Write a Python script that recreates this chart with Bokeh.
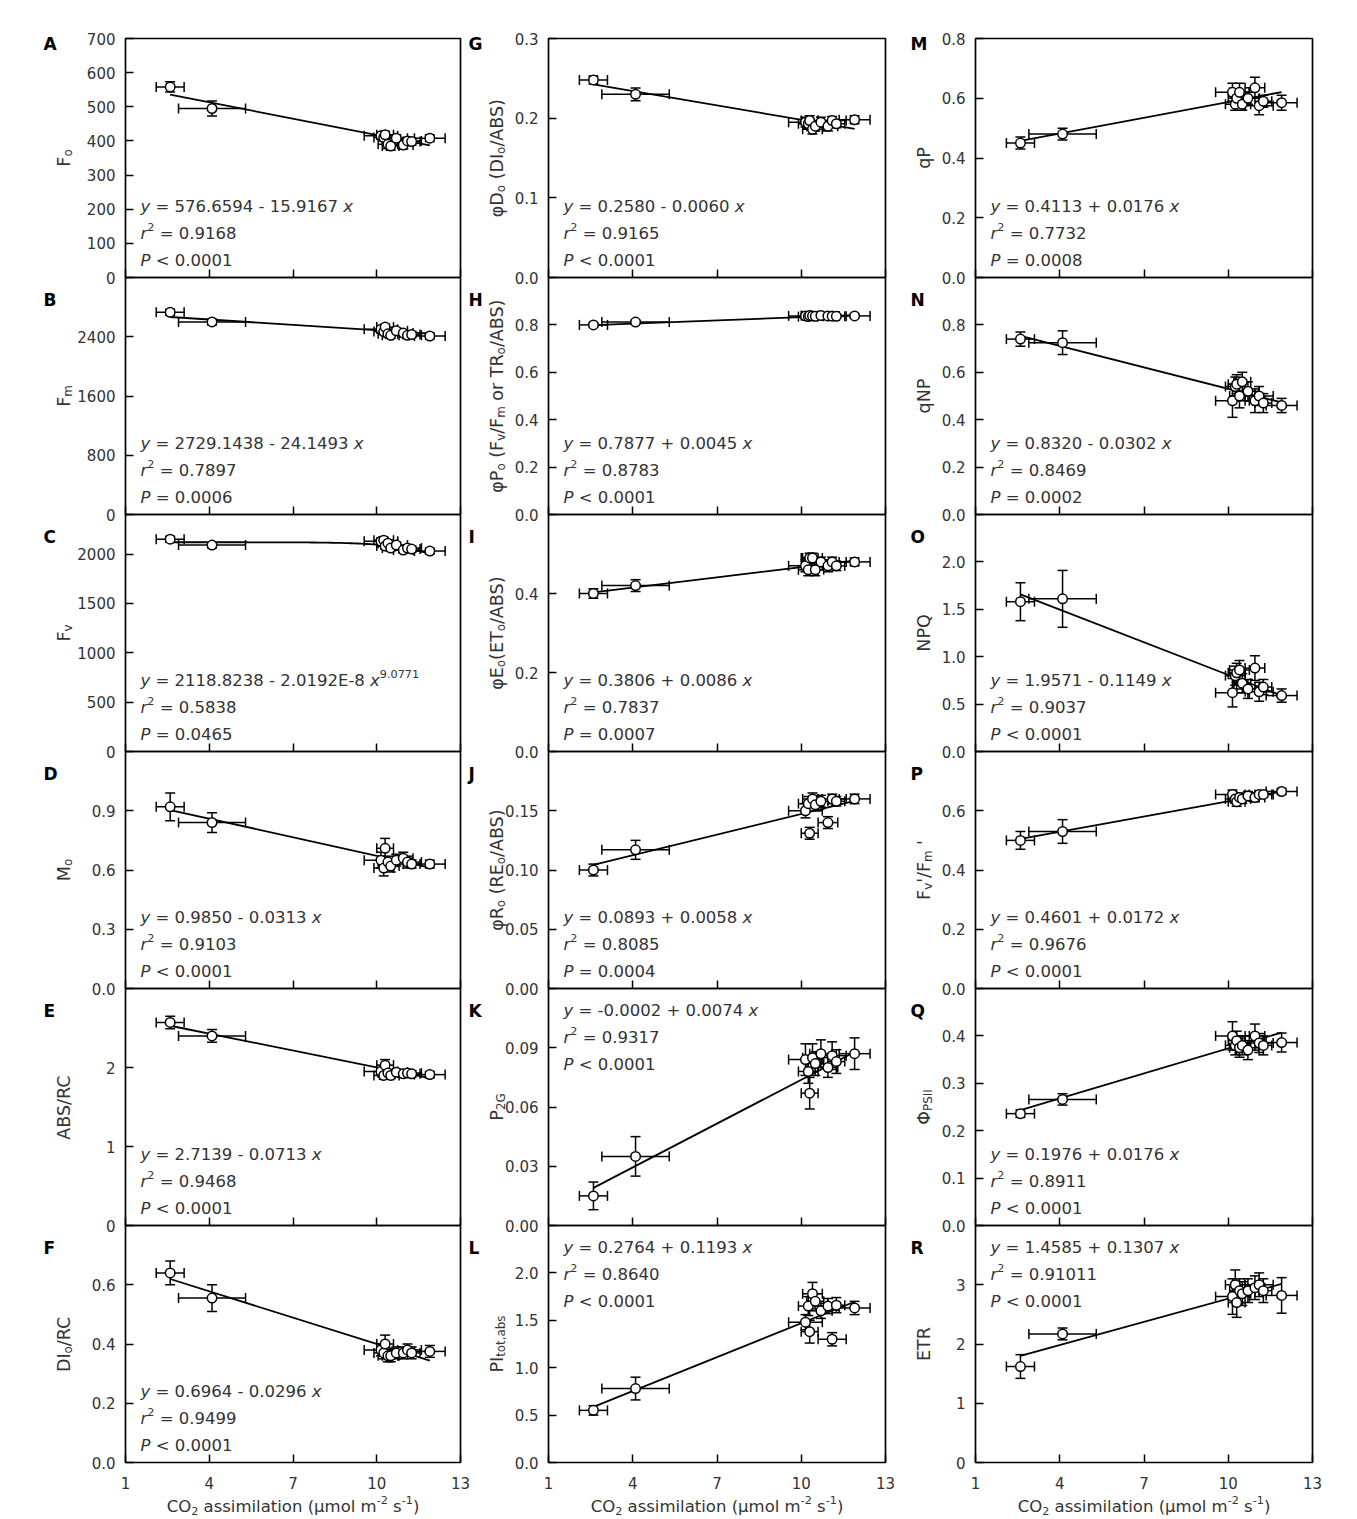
import math
import numpy as np
from bokeh.plotting import figure
from bokeh.models import Range1d, FixedTicker, Label, PrintfTickFormatter, LinearAxis
from bokeh.embed import file_html
from bokeh.resources import INLINE

# ---------------- data ----------------
co2 = [2.6, 4.1, 10.15, 10.25, 10.3, 10.4, 10.5, 10.7, 10.95, 11.1, 11.25, 11.9]
co2_err = [0.5, 1.2, 0.6, 0.35, 0.3, 0.35, 0.3, 0.4, 0.35, 0.5, 0.3, 0.55]

fo = [558, 495, 415, 410, 418, 390, 385, 408, 388, 400, 398, 408]
fo_err = [15, 22, 10, 10, 10, 12, 12, 10, 12, 10, 10, 10]
fm = [2730, 2600, 2500, 2470, 2530, 2440, 2420, 2480, 2450, 2420, 2430, 2410]
fm_err = [40, 40, 50, 40, 40, 40, 40, 40, 40, 40, 40, 40]
fv = [2150, 2090, 2130, 2140, 2080, 2110, 2060, 2090, 2040, 2060, 2050, 2030]
fv_err = [30, 30, 30, 30, 30, 30, 30, 30, 30, 30, 30, 30]
mo = [0.92, 0.84, 0.65, 0.61, 0.71, 0.64, 0.62, 0.65, 0.66, 0.64, 0.63, 0.63]
mo_err = [0.07, 0.05, 0.04, 0.04, 0.05, 0.03, 0.03, 0.03, 0.03, 0.03, 0.02, 0.02]
abs_rc = [2.57, 2.40, 1.95, 1.90, 2.03, 1.93, 1.90, 1.94, 1.92, 1.93, 1.92, 1.91]
abs_rc_err = [0.08, 0.08, 0.05, 0.05, 0.07, 0.04, 0.04, 0.04, 0.04, 0.04, 0.04, 0.04]
dio_rc = [0.64, 0.555, 0.38, 0.37, 0.40, 0.36, 0.36, 0.37, 0.37, 0.38, 0.37, 0.375]
dio_rc_err = [0.04, 0.045, 0.02, 0.02, 0.03, 0.02, 0.02, 0.02, 0.02, 0.02, 0.02, 0.02]

phi_do = [0.248, 0.230, 0.195, 0.193, 0.197, 0.186, 0.190, 0.195, 0.190, 0.197, 0.193, 0.198]
phi_do_err = [0.005, 0.008, 0.006, 0.006, 0.006, 0.006, 0.006, 0.006, 0.006, 0.005, 0.005, 0.005]
phi_po = [0.800, 0.812, 0.838, 0.835, 0.840, 0.838, 0.836, 0.840, 0.838, 0.837, 0.836, 0.838]
phi_po_err = [0.008, 0.008, 0.008, 0.008, 0.008, 0.008, 0.008, 0.008, 0.008, 0.008, 0.008, 0.008]
phi_eo = [0.40, 0.42, 0.47, 0.46, 0.49, 0.49, 0.46, 0.48, 0.47, 0.48, 0.47, 0.48]
phi_eo_err = [0.012, 0.015, 0.015, 0.015, 0.012, 0.012, 0.015, 0.012, 0.015, 0.012, 0.012, 0.010]
phi_ro = [0.100, 0.117, 0.150, 0.156, 0.131, 0.160, 0.155, 0.158, 0.140, 0.160, 0.158, 0.160]
phi_ro_err = [0.005, 0.008, 0.006, 0.006, 0.005, 0.005, 0.005, 0.005, 0.005, 0.004, 0.004, 0.004]
p2g = [0.015, 0.035, 0.084, 0.078, 0.067, 0.085, 0.082, 0.087, 0.080, 0.086, 0.083, 0.087]
p2g_err = [0.007, 0.010, 0.008, 0.006, 0.008, 0.007, 0.006, 0.007, 0.005, 0.007, 0.006, 0.008]
pi_tot = [0.55, 0.78, 1.48, 1.65, 1.38, 1.78, 1.70, 1.60, 1.65, 1.30, 1.66, 1.63]
pi_tot_err = [0.05, 0.12, 0.08, 0.10, 0.12, 0.12, 0.08, 0.08, 0.08, 0.07, 0.08, 0.07]

qp = [0.45, 0.48, 0.62, 0.58, 0.60, 0.62, 0.58, 0.60, 0.635, 0.575, 0.59, 0.585]
qp_err = [0.02, 0.02, 0.03, 0.02, 0.03, 0.03, 0.02, 0.02, 0.035, 0.03, 0.02, 0.025]
qnp = [0.74, 0.725, 0.48, 0.54, 0.55, 0.50, 0.56, 0.52, 0.48, 0.50, 0.47, 0.46]
qnp_err = [0.03, 0.05, 0.07, 0.04, 0.04, 0.05, 0.04, 0.04, 0.05, 0.04, 0.04, 0.03]
npq = [1.58, 1.61, 0.62, 0.80, 0.83, 0.86, 0.72, 0.66, 0.88, 0.63, 0.68, 0.59]
npq_err = [0.20, 0.30, 0.15, 0.10, 0.10, 0.10, 0.10, 0.10, 0.13, 0.10, 0.08, 0.07]
fvfm_p = [0.50, 0.53, 0.655, 0.64, 0.63, 0.645, 0.64, 0.65, 0.645, 0.655, 0.655, 0.665]
fvfm_p_err = [0.03, 0.04, 0.015, 0.015, 0.015, 0.015, 0.015, 0.015, 0.015, 0.010, 0.010, 0.010]
phi_psii = [0.236, 0.266, 0.40, 0.38, 0.39, 0.375, 0.38, 0.37, 0.40, 0.385, 0.38, 0.386]
phi_psii_err = [0.008, 0.012, 0.03, 0.02, 0.02, 0.02, 0.02, 0.02, 0.025, 0.02, 0.02, 0.02]
etr = [1.62, 2.17, 2.80, 3.00, 2.70, 2.90, 2.85, 2.90, 2.95, 3.00, 2.90, 2.82]
etr_err = [0.20, 0.10, 0.30, 0.25, 0.25, 0.20, 0.20, 0.20, 0.20, 0.20, 0.20, 0.30]

x_ticks = [1, 4, 7, 10, 13]
x_title = [("CO", "n"), ("2", "b"), (" assimilation (μmol m", "n"), ("-2", "p"),
           (" s", "n"), ("-1", "p"), (")", "n")]

PANELS = [
    # column 1
    dict(key="A", y=fo, e=fo_err, ymax=700, ticks=[0, 100, 200, 300, 400, 500, 600, 700], fmt="%d",
         ylab=[("F", "n"), ("o", "b")], a=576.6594, b=-15.9167, eq="576.6594 - 15.9167",
         r2="0.9168", pv="< 0.0001", top=False),
    dict(key="B", y=fm, e=fm_err, ymax=3200, ticks=[0, 800, 1600, 2400], fmt="%d",
         ylab=[("F", "n"), ("m", "b")], a=2729.1438, b=-24.1493, eq="2729.1438 - 24.1493",
         r2="0.7897", pv="= 0.0006", top=False),
    dict(key="C", y=fv, e=fv_err, ymax=2400, ticks=[0, 500, 1000, 1500, 2000], fmt="%d",
         ylab=[("F", "n"), ("v", "b")], a=2118.8238, b=-2.0192e-8, power=9.0771,
         eq="2118.8238 - 2.0192E-8", r2="0.5838", pv="= 0.0465", top=False),
    dict(key="D", y=mo, e=mo_err, ymax=1.2, ticks=[0, 0.3, 0.6, 0.9], fmt="%.1f",
         ylab=[("M", "n"), ("o", "b")], a=0.9850, b=-0.0313, eq="0.9850 - 0.0313",
         r2="0.9103", pv="< 0.0001", top=False),
    dict(key="E", y=abs_rc, e=abs_rc_err, ymax=3, ticks=[0, 1, 2], fmt="%d",
         ylab=[("ABS/RC", "n")], a=2.7139, b=-0.0713, eq="2.7139 - 0.0713",
         r2="0.9468", pv="< 0.0001", top=False),
    dict(key="F", y=dio_rc, e=dio_rc_err, ymax=0.8, ticks=[0, 0.2, 0.4, 0.6], fmt="%.1f",
         ylab=[("DI", "n"), ("o", "b"), ("/RC", "n")], a=0.6964, b=-0.0296, eq="0.6964 - 0.0296",
         r2="0.9499", pv="< 0.0001", top=False),
    # column 2
    dict(key="G", y=phi_do, e=phi_do_err, ymax=0.3, ticks=[0, 0.1, 0.2, 0.3], fmt="%.1f",
         ylab=[("φD", "n"), ("o", "b"), (" (DI", "n"), ("o", "b"), ("/ABS)", "n")],
         a=0.2580, b=-0.0060, eq="0.2580 - 0.0060", r2="0.9165", pv="< 0.0001", top=False),
    dict(key="H", y=phi_po, e=phi_po_err, ymax=1.0, ticks=[0, 0.2, 0.4, 0.6, 0.8], fmt="%.1f",
         ylab=[("φP", "n"), ("o", "b"), (" (F", "n"), ("v", "b"), ("/F", "n"), ("m", "b"),
               (" or TR", "n"), ("o", "b"), ("/ABS)", "n")],
         a=0.7877, b=0.0045, eq="0.7877 + 0.0045", r2="0.8783", pv="< 0.0001", top=False),
    dict(key="I", y=phi_eo, e=phi_eo_err, ymax=0.6, ticks=[0, 0.2, 0.4], fmt="%.1f",
         ylab=[("φE", "n"), ("o", "b"), ("(ET", "n"), ("o", "b"), ("/ABS)", "n")],
         a=0.3806, b=0.0086, eq="0.3806 + 0.0086", r2="0.7837", pv="= 0.0007", top=False),
    dict(key="J", y=phi_ro, e=phi_ro_err, ymax=0.2, ticks=[0, 0.05, 0.1, 0.15], fmt="%.2f",
         ylab=[("φR", "n"), ("o", "b"), (" (RE", "n"), ("o", "b"), ("/ABS)", "n")],
         a=0.0893, b=0.0058, eq="0.0893 + 0.0058", r2="0.8085", pv="= 0.0004", top=False),
    dict(key="K", y=p2g, e=p2g_err, ymax=0.12, ticks=[0, 0.03, 0.06, 0.09], fmt="%.2f",
         ylab=[("P", "n"), ("2G", "b")], a=-0.0002, b=0.0074, eq="-0.0002 + 0.0074",
         r2="0.9317", pv="< 0.0001", top=True),
    dict(key="L", y=pi_tot, e=pi_tot_err, ymax=2.5, ticks=[0, 0.5, 1.0, 1.5, 2.0], fmt="%.1f",
         ylab=[("PI", "n"), ("tot,abs", "b")], a=0.2764, b=0.1193, eq="0.2764 + 0.1193",
         r2="0.8640", pv="< 0.0001", top=True),
    # column 3
    dict(key="M", y=qp, e=qp_err, ymax=0.8, ticks=[0, 0.2, 0.4, 0.6, 0.8], fmt="%.1f",
         ylab=[("qP", "n")], a=0.4113, b=0.0176, eq="0.4113 + 0.0176",
         r2="0.7732", pv="= 0.0008", top=False),
    dict(key="N", y=qnp, e=qnp_err, ymax=1.0, ticks=[0, 0.2, 0.4, 0.6, 0.8], fmt="%.1f",
         ylab=[("qNP", "n")], a=0.8320, b=-0.0302, eq="0.8320 - 0.0302",
         r2="0.8469", pv="= 0.0002", top=False),
    dict(key="O", y=npq, e=npq_err, ymax=2.5, ticks=[0, 0.5, 1.0, 1.5, 2.0], fmt="%.1f",
         ylab=[("NPQ", "n")], a=1.9571, b=-0.1149, eq="1.9571 - 0.1149",
         r2="0.9037", pv="< 0.0001", top=False),
    dict(key="P", y=fvfm_p, e=fvfm_p_err, ymax=0.8, ticks=[0, 0.2, 0.4, 0.6], fmt="%.1f",
         ylab=[("F", "n"), ("v", "b"), ("'/F", "n"), ("m", "b"), (" '", "n")],
         a=0.4601, b=0.0172, eq="0.4601 + 0.0172", r2="0.9676", pv="< 0.0001", top=False),
    dict(key="Q", y=phi_psii, e=phi_psii_err, ymax=0.5, ticks=[0, 0.1, 0.2, 0.3, 0.4], fmt="%.1f",
         ylab=[("Φ", "n"), ("PSII", "b")], a=0.1976, b=0.0176, eq="0.1976 + 0.0176",
         r2="0.8911", pv="< 0.0001", top=False),
    dict(key="R", y=etr, e=etr_err, ymax=4, ticks=[0, 1, 2, 3], fmt="%d",
         ylab=[("ETR", "n")], a=1.4585, b=0.1307, eq="1.4585 + 0.1307",
         r2="0.91011", pv="< 0.0001", top=True),
]

# ---------------- layout (page pixels) ----------------
WF, HF = 1350, 1517
COL_L = [125, 548, 975]
COL_R = [460, 885, 1312]
ROW_T = [38, 277, 514, 751, 988, 1225]
ROW_B = [277, 514, 751, 988, 1225, 1462]
YLAB_X = [63, 496, 923]      # baseline of rotated y titles
LET_X = [43, 468, 910]       # panel letters
YLAB_FS = 17.5

FONT = "DejaVu Sans"
TXT = "#333333"
W = {' ': 0.318, '(': 0.390, ')': 0.390, '+': 0.838, ',': 0.318, '-': 0.361, '.': 0.318,
     '/': 0.337, '<': 0.838, '=': 0.838, "'": 0.275,
     'A': 0.684, 'B': 0.686, 'C': 0.698, 'D': 0.770, 'E': 0.632, 'F': 0.575, 'G': 0.775,
     'H': 0.752, 'I': 0.295, 'M': 0.863, 'N': 0.748, 'O': 0.787, 'P': 0.603, 'Q': 0.787,
     'R': 0.695, 'S': 0.635, 'T': 0.611, 'V': 0.684,
     'a': 0.613, 'b': 0.635, 'c': 0.550, 'd': 0.635, 'e': 0.615, 'f': 0.352, 'g': 0.635,
     'h': 0.634, 'i': 0.278, 'l': 0.278, 'm': 0.974, 'n': 0.634, 'o': 0.612, 'p': 0.635,
     'q': 0.635, 'r': 0.411, 's': 0.521, 't': 0.392, 'u': 0.634, 'v': 0.592, 'x': 0.592,
     'y': 0.592, 'φ': 0.660, 'Φ': 0.790, 'μ': 0.636}
for d in "0123456789":
    W[d] = 0.636
SUB = 0.68


def text_width(s, fs):
    return sum(W.get(ch, 0.62) for ch in s) * fs


def runs_length(segs, fs):
    return sum(text_width(t, fs * SUB if k in ("b", "p") else fs) for t, k in segs)


p = figure(frame_width=WF, frame_height=HF, x_range=Range1d(0, WF), y_range=Range1d(HF, 0),
           min_border=0, min_border_left=0, min_border_right=0, min_border_top=0,
           min_border_bottom=0, output_backend="svg", toolbar_location=None, tools="",
           x_axis_location=None, y_axis_location=None, title=None)
p.outline_line_color = None
p.background_fill_color = "white"
p.border_fill_color = "white"
for g in p.grid:
    g.visible = False


def put_runs(segs, x, y, fs, rotate=False, color=TXT, bold=False):
    """Text runs in page pixels (y downward); (x, y) = start of the baseline."""
    pos = 0.0
    for txt, kind in segs:
        small = kind in ("b", "p")
        size = fs * SUB if small else fs
        shift = -0.25 * fs if kind == "b" else (0.42 * fs if kind == "p" else 0.0)
        style = "italic" if kind == "i" else ("bold" if bold else "normal")
        lead = len(txt) - len(txt.lstrip(" "))
        core = txt.strip(" ")
        pos += text_width(" " * lead, size)
        if core:
            if rotate:
                sx, sy = x - shift, y - pos
            else:
                sx, sy = x + pos, y - shift
            p.add_layout(Label(x=sx, y=sy, text=core, angle=(math.pi / 2 if rotate else 0.0),
                               text_font=FONT, text_font_size=f"{size:.1f}px",
                               text_font_style=style, text_color=color,
                               text_align="left", text_baseline="alphabetic"))
        pos += text_width(txt[lead:], size)


# column x ranges (1..13 mapped onto each column's panel box)
xr = {}
for c in range(3):
    s = 12.0 / (COL_R[c] - COL_L[c])
    xr[f"c{c}"] = Range1d(1 - COL_L[c] * s, 1 - COL_L[c] * s + WF * s)
# panel y ranges (0..ymax mapped onto the panel's row band)
yr = {}
for i, pan in enumerate(PANELS):
    r = i % 6
    sy = pan["ymax"] / (ROW_B[r] - ROW_T[r])
    start = -(HF - ROW_B[r]) * sy
    yr[pan["key"]] = Range1d(start, start + HF * sy)
p.extra_x_ranges = xr
p.extra_y_ranges = yr

x = np.array(co2, dtype=float)
xe = np.array(co2_err, dtype=float)
LW = 1.5

for i, pan in enumerate(PANELS):
    c, r = i // 6, i % 6
    cn, key = f"c{c}", pan["key"]
    kw = dict(x_range_name=cn, y_range_name=key)
    y = np.array(pan["y"], dtype=float)
    ye = np.array(pan["e"], dtype=float)

    # panel box
    p.quad(left=[1], right=[13], bottom=[0], top=[pan["ymax"]], fill_color=None,
           line_color="black", line_width=1.7, **kw)

    # error bars
    p.segment(x0=x - xe, x1=x + xe, y0=y, y1=y, line_color="black", line_width=LW, **kw)
    p.segment(x0=x, x1=x, y0=y - ye, y1=y + ye, line_color="black", line_width=LW, **kw)
    p.scatter(x=np.concatenate([x - xe, x + xe]), y=np.concatenate([y, y]), marker="dash",
              size=10, angle=math.pi / 2, line_color="black", line_width=LW, **kw)
    p.scatter(x=np.concatenate([x, x]), y=np.concatenate([y - ye, y + ye]), marker="dash",
              size=10, line_color="black", line_width=LW, **kw)

    # fitted curve from the printed equation
    if "power" in pan:
        xl = np.linspace(x.min(), x.max(), 80)
        yl = pan["a"] + pan["b"] * xl ** pan["power"]
    else:
        xl = np.array([x.min(), x.max()])
        yl = pan["a"] + pan["b"] * xl
    p.line(xl, yl, line_color="black", line_width=1.8, **kw)

    p.scatter(x=x, y=y, marker="circle", size=9.5, fill_color="white",
              line_color="black", line_width=1.5, **kw)

    # y axis (ticks inward, labels outside)
    ya = LinearAxis(x_range_name=cn, y_range_name=key, fixed_location=1,
                    bounds=(0, pan["ymax"]), ticker=FixedTicker(ticks=pan["ticks"]),
                    formatter=PrintfTickFormatter(format=pan["fmt"]),
                    axis_line_color=None, major_tick_in=8, major_tick_out=0,
                    major_tick_line_width=1.5, minor_tick_line_color=None,
                    major_label_text_font=FONT, major_label_text_font_size="15px",
                    major_label_text_color=TXT, major_label_standoff=10)
    p.add_layout(ya, "left")

    # x axis at the panel's bottom edge
    xa = LinearAxis(x_range_name=cn, y_range_name=key, fixed_location=0, bounds=(1, 13),
                    ticker=FixedTicker(ticks=x_ticks), axis_line_color=None,
                    major_tick_in=8, major_tick_out=0, major_tick_line_width=1.5,
                    minor_tick_line_color=None, major_label_text_font=FONT,
                    major_label_text_font_size="15px", major_label_standoff=14)
    if r == 5:
        xa.major_label_text_color = TXT
    else:
        xa.major_label_text_color = None
    p.add_layout(xa, "below")

    # regression text
    eq_segs = [("y", "i"), (" = " + pan["eq"] + " ", "n"), ("x", "i")]
    if "power" in pan:
        eq_segs.append((f"{pan['power']:.4f}", "p"))
    lines = [eq_segs,
             [("r", "i"), ("2", "p"), (" = " + pan["r2"], "n")],
             [("P", "i"), (" " + pan["pv"], "n")]]
    if pan["top"]:
        ys = [ROW_T[r] + 22, ROW_T[r] + 49, ROW_T[r] + 76]
    else:
        ys = [ROW_B[r] - 71, ROW_B[r] - 44, ROW_B[r] - 17]
    for segs, yy in zip(lines, ys):
        put_runs(segs, COL_L[c] + 15, yy, 16.5)

    # rotated y title, centred on the panel
    L = runs_length(pan["ylab"], YLAB_FS)
    ymid = (ROW_T[r] + ROW_B[r]) / 2
    put_runs(pan["ylab"], YLAB_X[c], ymid + L / 2, YLAB_FS, rotate=True)

    # panel letter
    put_runs([(key, "n")], LET_X[c], ROW_T[r] + (5 if r == 0 else 22), 17,
             color="black", bold=True)

# x titles under the bottom row
for c in range(3):
    L = runs_length(x_title, 16.5)
    put_runs(x_title, (COL_L[c] + COL_R[c]) / 2 - L / 2, 1506, 16.5)

open("out.html", "w").write(file_html(p, INLINE))
